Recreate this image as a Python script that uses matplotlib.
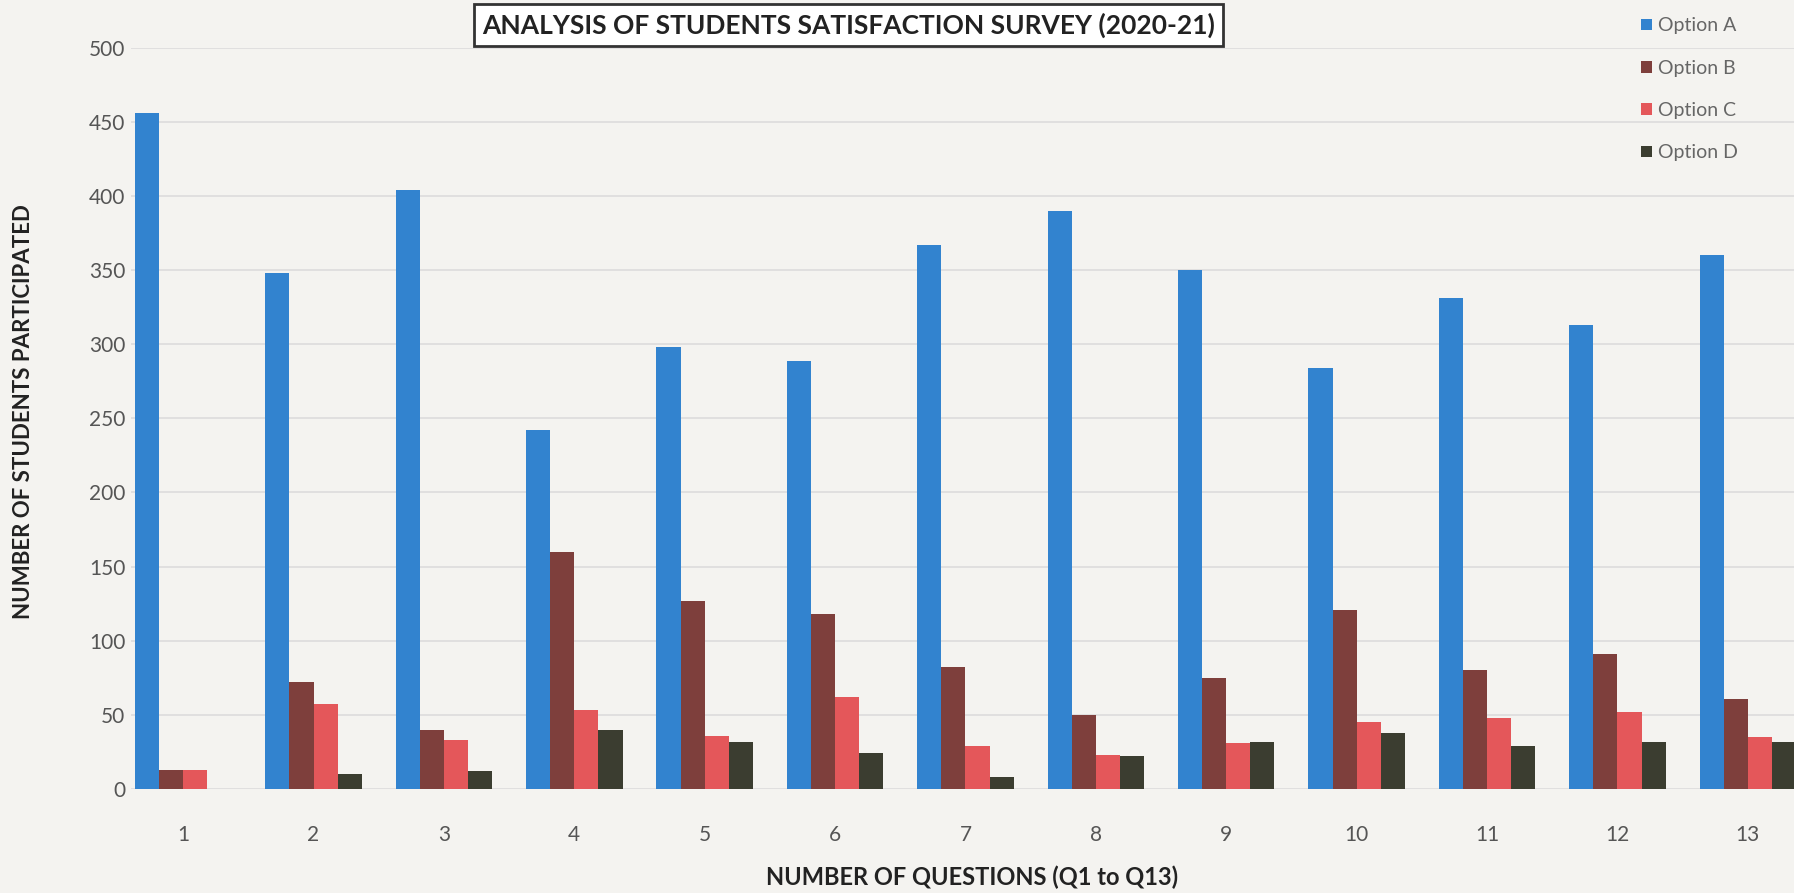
import numpy as np
import matplotlib.pyplot as plt

plt.rcParams['font.family'] = ['Lato', 'DejaVu Sans']

questions = ['1', '2', '3', '4', '5', '6', '7', '8', '9', '10', '11', '12', '13']
option_a = [456, 348, 404, 242, 298, 289, 367, 390, 350, 284, 331, 313, 360]
option_b = [13, 72, 40, 160, 127, 118, 82, 50, 75, 121, 80, 91, 61]
option_c = [13, 57, 33, 53, 36, 62, 29, 23, 31, 45, 48, 52, 35]
option_d = [0, 10, 12, 40, 32, 24, 8, 22, 32, 38, 29, 32, 32]

series = {
    'Option A': option_a,
    'Option B': option_b,
    'Option C': option_c,
    'Option D': option_d,
}
colors = ['#3283cf', '#7e3f3c', '#e4575a', '#3b3d30']

fig = plt.figure(figsize=(17.94, 8.93), dpi=100)
fig.patch.set_facecolor('#f4f3f0')
ax = fig.add_axes([0.073, 0.1165, 0.9376, 0.83])
ax.set_facecolor('#f4f3f0')

x = np.arange(1, len(questions) + 1)
w = 0.185
for i, (name, vals) in enumerate(series.items()):
    ax.bar(x + (i - 1.5) * w, vals, width=w, color=colors[i], label=name, zorder=3)

ax.set_xlim(0.6, 13.5)
ax.set_ylim(0, 500)
ax.set_yticks(np.arange(0, 501, 50))
ax.set_xticks(x)
ax.set_xticklabels(questions)
ax.grid(axis='y', color='#dcdcdc', linewidth=1.2, zorder=0)
for s in ax.spines.values():
    s.set_visible(False)
ax.tick_params(axis='x', length=0, labelsize=15, labelcolor='#555555', pad=26)
ax.tick_params(axis='y', length=0, labelsize=15, labelcolor='#555555', pad=4)

# axis titles placed on the figure
fig.text(0.542, 0.004, 'NUMBER OF QUESTIONS (Q1 to Q13)', ha='center', va='bottom',
         fontsize=17, fontweight='bold', color='#222222')
fig.text(0.013, 0.539, 'NUMBER OF STUDENTS PARTICIPATED', ha='center', va='center',
         rotation=90, fontsize=16, fontweight='bold', color='#222222')

fig.text(0.473, 0.972, 'ANALYSIS OF STUDENTS SATISFACTION SURVEY (2020-21)',
         ha='center', va='center', fontsize=19, fontweight='bold', color='#222222',
         bbox=dict(boxstyle='square,pad=0.3', facecolor='white', edgecolor='#333333',
                   linewidth=2))

leg = fig.legend(loc='upper left', bbox_to_anchor=(0.905, 1.0), frameon=False,
                 fontsize=14, handlelength=0.55, handleheight=0.55, labelspacing=1.3,
                 handletextpad=0.3)
for t in leg.get_texts():
    t.set_color('#666666')

fig.savefig('out.png', dpi=100, facecolor=fig.get_facecolor())
